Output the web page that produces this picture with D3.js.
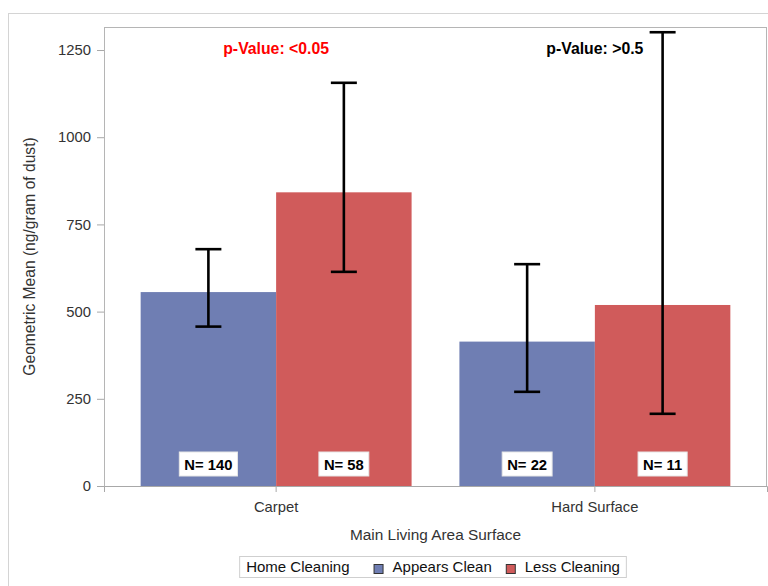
<!DOCTYPE html>
<html>
<head>
<meta charset="utf-8">
<script src="https://cdn.jsdelivr.net/npm/d3@7"></script>
<style>
  html, body { margin: 0; padding: 0; background: #fff; }
  svg { display: block; font-family: "Liberation Sans", Arial, sans-serif; }
</style>
</head>
<body>
<svg id="chart" width="768" height="586"></svg>
<script>
// ---- data ----
const categories = ["Carpet", "Hard Surface"];
const groups = ["Appears Clean", "Less Cleaning"];
const appearsCleanMean = [556, 414];
const lessCleaningMean = [842, 519];
const appearsCleanLow = [457, 270];
const lessCleaningLow = [614, 207];
const appearsCleanHigh = [679, 636];
const lessCleaningHigh = [1156, 1301];
const appearsCleanN = [140, 22];
const lessCleaningN = [58, 11];
const pValueLabels = ["p-Value: <0.05", "p-Value: >0.5"];
const pValueColors = ["#FF0000", "#000000"];
const yTicks = [0, 250, 500, 750, 1000, 1250];
const groupColors = ["#6F7EB3", "#D05B5B"];

// ---- build rows ----
const rows = [];
categories.forEach((c, i) => {
  rows.push({cat: c, grp: groups[0], mean: appearsCleanMean[i], lo: appearsCleanLow[i], hi: appearsCleanHigh[i], n: appearsCleanN[i]});
  rows.push({cat: c, grp: groups[1], mean: lessCleaningMean[i], lo: lessCleaningLow[i], hi: lessCleaningHigh[i], n: lessCleaningN[i]});
});

const svg = d3.select("#chart");
const plot = {left: 104, top: 27, right: 767, bottom: 486};

// outer border
svg.append("rect").attr("x", 8.5).attr("y", 13.5).attr("width", 800).attr("height", 600)
  .attr("fill", "none").attr("stroke", "#D4D4D4").attr("stroke-width", 1);

const x = d3.scaleBand().domain(categories).range([plot.left, plot.right])
  .paddingInner(0.15).paddingOuter(0.115);
const xg = d3.scaleBand().domain(groups).range([0, x.bandwidth()]);
const y = d3.scaleLinear().domain([0, 1316]).range([plot.bottom, plot.top]);
const color = d3.scaleOrdinal().domain(groups).range(groupColors);

// bars
svg.append("g").selectAll("rect").data(rows).join("rect")
  .attr("x", d => x(d.cat) + xg(d.grp))
  .attr("y", d => y(d.mean))
  .attr("width", xg.bandwidth())
  .attr("height", d => y(0) - y(d.mean))
  .attr("fill", d => color(d.grp));

// plot frame
svg.append("rect").attr("x", plot.left + 0.5).attr("y", plot.top + 0.5)
  .attr("width", plot.right - plot.left - 1).attr("height", plot.bottom - plot.top)
  .attr("fill", "none").attr("stroke", "#B5B5B5").attr("stroke-width", 1);

// error bars
const capHalf = 13;
const eb = svg.append("g").attr("stroke", "#000").attr("stroke-width", 2.6).attr("fill", "none");
rows.forEach(d => {
  const cx = x(d.cat) + xg(d.grp) + xg.bandwidth() / 2;
  eb.append("line").attr("x1", cx).attr("x2", cx).attr("y1", y(d.lo)).attr("y2", y(d.hi));
  eb.append("line").attr("x1", cx - capHalf).attr("x2", cx + capHalf).attr("y1", y(d.lo)).attr("y2", y(d.lo));
  eb.append("line").attr("x1", cx - capHalf).attr("x2", cx + capHalf).attr("y1", y(d.hi)).attr("y2", y(d.hi));
});

// N labels
const nG = svg.append("g");
rows.forEach(d => {
  const cx = x(d.cat) + xg(d.grp) + xg.bandwidth() / 2;
  const g = nG.append("g");
  const r = g.append("rect").attr("fill", "#fff").attr("stroke", "#E6E6E6").attr("stroke-width", 1);
  const t = g.append("text").attr("x", cx).attr("y", 469.5).attr("text-anchor", "middle")
    .attr("font-size", "14.8px").attr("font-weight", "bold").attr("fill", "#000")
    .text("N= " + d.n);
  const w = t.node().getComputedTextLength();
  r.attr("x", cx - w / 2 - 5).attr("y", 452).attr("width", w + 10).attr("height", 24);
});

// p-value labels
categories.forEach((c, i) => {
  svg.append("text").attr("x", x(c) + x.bandwidth() / 2).attr("y", 53.5)
    .attr("text-anchor", "middle").attr("font-size", "15.8px").attr("font-weight", "bold")
    .attr("fill", pValueColors[i]).text(pValueLabels[i]);
});

// y axis
const yAxis = svg.append("g").attr("transform", `translate(${plot.left},0)`)
  .call(d3.axisLeft(y).tickValues(yTicks).tickSize(7).tickPadding(6).tickFormat(d3.format("d")));
yAxis.select(".domain").remove();
yAxis.selectAll(".tick line").attr("stroke", "#A8A8A8");
yAxis.selectAll(".tick text").attr("fill", "#333").attr("font-size", "14.8px")
  .attr("font-family", "Liberation Sans, Arial, sans-serif");

// x axis
const xAxis = svg.append("g").attr("transform", `translate(0,${plot.bottom})`)
  .call(d3.axisBottom(x).tickSize(6).tickPadding(9));
xAxis.select(".domain").attr("stroke", "#A8A8A8");
xAxis.selectAll(".tick line").attr("stroke", "#A8A8A8");
xAxis.selectAll(".tick text").attr("fill", "#333").attr("font-size", "14.8px")
  .attr("font-family", "Liberation Sans, Arial, sans-serif");

// axis titles
svg.append("text").attr("x", (plot.left + plot.right) / 2).attr("y", 540)
  .attr("text-anchor", "middle").attr("font-size", "15.4px").attr("fill", "#333")
  .text("Main Living Area Surface");
svg.append("text").attr("transform", `translate(35,${(plot.top + plot.bottom) / 2}) rotate(-90)`)
  .attr("text-anchor", "middle").attr("font-size", "15.6px").attr("fill", "#333")
  .text("Geometric Mean (ng/gram of dust)");

// legend
const leg = svg.append("g");
const legBox = leg.append("rect").attr("fill", "#fff").attr("stroke", "#CFCFCF").attr("stroke-width", 1);
let lx = 0;
const title = leg.append("text").attr("x", lx).attr("y", 0).attr("font-size", "15px").attr("fill", "#111").text("Home Cleaning");
lx += title.node().getComputedTextLength() + 24;
groups.forEach((gname, i) => {
  leg.append("rect").attr("x", lx + 0.5).attr("y", -7.5).attr("width", 9).attr("height", 9)
    .attr("fill", groupColors[i]).attr("stroke", "#333").attr("stroke-width", 1);
  lx += 19;
  const t = leg.append("text").attr("x", lx).attr("y", 0).attr("font-size", "15px").attr("fill", "#111").text(gname);
  lx += t.node().getComputedTextLength() + (i === 0 ? 14 : 0);
});
const legW = lx + 14;
const legX = 433 - legW / 2;
leg.attr("transform", `translate(${legX + 7},572)`);
legBox.attr("x", -6.5).attr("y", -15.5).attr("width", legW - 1).attr("height", 21);
</script>
</body>
</html>
